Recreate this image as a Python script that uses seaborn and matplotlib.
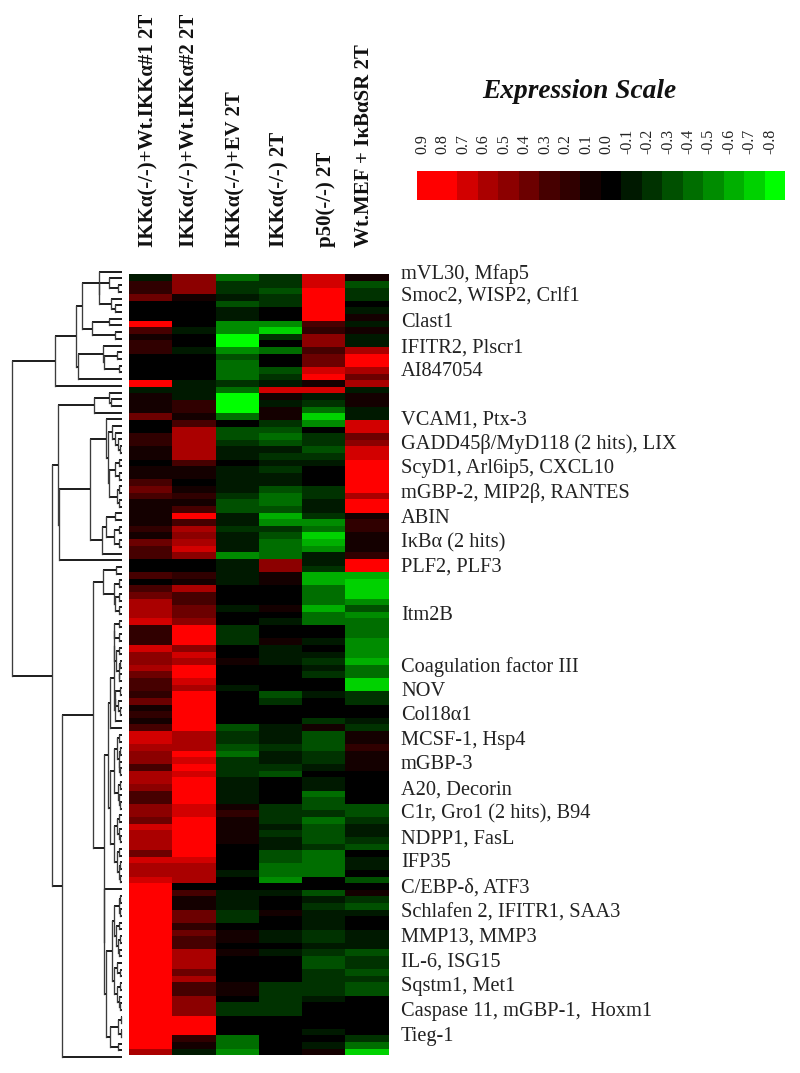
import numpy as np
import matplotlib
matplotlib.use("Agg")
import matplotlib.pyplot as plt
from matplotlib.colors import ListedColormap
import seaborn as sns

sns.set_style("white")
plt.rcParams['font.family'] = ['Liberation Serif', 'DejaVu Serif']

# ---------- data (expression in tenths, rows top to bottom) ----------
columns = ["IKKα(-/-)+Wt.IKKα#1 2T", "IKKα(-/-)+Wt.IKKα#2 2T", "IKKα(-/-)+EV 2T",
           "IKKα(-/-) 2T", "p50(-/-) 2T", "Wt.MEF + IκBαSR 2T"]
column_label_pos = [0.46, 1.41, 2.46, 3.48, 4.55, 5.44]

block_a = [
 [-1,5,-4,-2,7,1],[2,5,-2,-2,7,-3],[2,5,-2,-3,8,-2],[4,1,-1,-2,9,-2],[0,0,-3,-2,9,0],
 [0,0,-1,0,9,-1],[0,0,-1,0,9,1],[8,0,-5,-5,3,-1],[3,-1,-5,-7,2,1],[1,0,-8,-2,5,-1],
 [2,0,-8,0,5,-1],[2,-1,-5,-4,3,6],[0,0,-3,0,4,8],[0,0,-4,0,4,8],[0,0,-4,-3,7,6],
 [0,0,-4,-2,8,4],[9,-1,-2,-1,1,6],[-1,-1,-4,7,7,-1],
]
block_b = [
 [1,-1,-8,1,-1,1],[1,2,-8,-1,-2,1],[1,2,-8,1,-4,-1],[4,1,-4,1,-7,-1],[0,3,0,-2,-5,7],
 [0,6,-3,-3,0,7],[2,6,-3,-4,-2,4],[2,6,-2,-3,-2,5],[1,6,-1,-1,-3,7],[1,6,-1,-2,-2,7],
 [0,3,0,-1,-1,8],[1,1,-1,-2,0,9],[1,1,-1,-1,0,9],[3,0,-1,-1,0,9],[4,1,-1,-3,-2,9],
 [3,2,-2,-4,-2,6],[1,1,-3,-4,-1,8],[1,3,-3,-3,-1,8],[1,8,-1,-6,-2,1],[1,3,-1,-5,-5,2],
 [2,6,-2,-2,-4,2],[1,5,-1,-3,-7,1],[4,6,-1,-4,-6,1],[3,7,-1,-4,-5,1],[3,5,-5,-4,-1,2],
 [0,0,-1,5,-1,9],
]
block_c = [
 [0,0,-1,5,-2,9],[3,2,-1,1,-6,-6],[0,1,-1,1,-6,-7],[3,6,0,0,-4,-7],[4,3,0,0,-4,-7],
 [6,3,0,0,-4,-5],[6,4,-1,1,-6,-3],[6,4,0,0,-4,-5],[7,5,0,-1,-4,-4],[2,9,-2,0,0,-4],
 [2,9,-2,0,0,-4],[2,8,-2,1,-1,-5],[7,5,0,-1,0,-5],[5,7,0,-1,-1,-5],[5,6,1,-1,-2,-6],
 [6,8,0,0,-1,-4],[4,8,0,0,-2,-4],[3,7,0,0,0,-7],[3,6,-1,0,0,-7],[2,9,0,-3,-1,-2],
 [4,9,0,-2,0,-2],[1,9,0,0,0,0],[2,9,0,0,0,0],[1,9,0,0,-2,-1],[3,9,-3,-1,1,-2],
]
block_d = [
 [7,6,-2,-1,-3,1],[7,6,-2,-1,-3,1],[6,6,-3,-2,-3,2],[5,8,-4,-1,-2,1],[5,7,-2,-1,-2,1],
 [3,9,-2,-2,-1,1],[6,7,-2,-3,0,0],[6,9,-1,0,-1,0],[5,9,-1,0,-1,0],[3,9,-1,0,-4,0],
 [3,9,-1,0,-3,0],[5,7,1,-2,-3,-3],[5,7,2,-2,-2,-3],[4,9,1,-2,-4,-2],[7,9,1,-1,-3,-1],
 [6,9,1,-2,-3,-1],[6,8,1,-1,-3,-2],[6,9,0,-1,-2,-3],[4,9,0,-3,-4,0],[7,7,0,-3,-4,-1],
 [6,6,0,-4,-4,-1],[6,6,-1,-4,-4,0],[7,6,0,-5,0,-3],
]
block_e = [
 [9,0,0,0,0,0],[9,3,-1,-1,-3,1],[9,1,-1,0,-1,-2],[9,1,-1,0,-2,-3],[9,4,-2,1,-1,-1],
 [9,4,-2,0,-1,0],[9,2,0,0,-1,0],[9,4,1,-1,-2,-1],[9,3,1,-1,-2,-1],[9,3,0,0,-1,-1],
 [8,6,1,-1,-2,-3],[8,6,0,0,-3,-2],[8,6,0,0,-3,-2],[9,4,0,0,-2,-3],[9,6,0,0,-2,-2],
 [9,3,1,-2,-2,-3],[9,3,1,-2,-2,-3],[9,5,0,-2,-1,0],[9,5,-2,-2,0,0],[9,5,-2,-2,0,0],
 [8,8,0,0,0,0],[8,8,0,0,0,0],[8,8,0,0,-1,0],[9,2,-4,0,0,-2],[9,1,-4,0,-1,-4],
 [6,-1,-5,0,1,-7],
]

gene_labels = ["mVL30, Mfap5", "Smoc2, WISP2, Crlf1", "Clast1", "IFITR2, Plscr1", "AI847054",
               "VCAM1, Ptx-3", "GADD45β/MyD118 (2 hits), LIX", "ScyD1, Arl6ip5, CXCL10",
               "mGBP-2, MIP2β, RANTES", "ABIN", "IκBα (2 hits)", "PLF2, PLF3", "Itm2B",
               "Coagulation factor III", "NOV", "Col18α1", "MCSF-1, Hsp4", "mGBP-3",
               "A20, Decorin", "C1r, Gro1 (2 hits), B94", "NDPP1, FasL", "IFP35",
               "C/EBP-δ, ATF3", "Schlafen 2, IFITR1, SAA3", "MMP13, MMP3", "IL-6, ISG15",
               "Sqstm1, Met1", "Caspase 11, mGBP-1,  Hoxm1", "Tieg-1"]
gene_label_rows = [-0.4, 3.1, 6.9, 10.7, 14.3, 21.6, 25.2, 29.0, 32.7, 36.5, 40.2, 43.8, 51.2,
                   59.0, 62.7, 66.3, 70.1, 73.7, 77.5, 81.2, 84.9, 88.5, 92.3, 96.2, 99.8,
                   103.6, 107.3, 111.0, 114.8]

scale_values = [0.9, 0.8, 0.7, 0.6, 0.5, 0.4, 0.3, 0.2, 0.1, 0.0,
                -0.1, -0.2, -0.3, -0.4, -0.5, -0.6, -0.7, -0.8]
scale_colors = ["#ff0000", "#ff0000", "#d20000", "#aa0000", "#8c0000", "#6c0000", "#460000",
                "#300000", "#140000", "#000000", "#001900", "#003200", "#005000", "#006e00",
                "#008c00", "#00af00", "#00d200", "#00ff00"]

# dendrogram: (merge distance, child, child); an int child is a row
t_n1 = (70, 0, (68, (40, 1, (13, 2, 3)), (33, 4, (20, 5, 6))))
t_n2 = (90, (40, 7, 8), (20, 9, 10))
t_n3 = (132, (57, 11, (53, (15, 12, 13), (10, 14, 15))), 16)
tree_a = (202, (137, (120, t_n1, t_n2), t_n3), 17)

t_p = (83, (40, 18, (32, 19, 20)), 21)
t_c1 = (30, 23, (20, 24, (13, 25, (7, 26, 27))))
t_c2 = (20, (8, 28, 29), (10, 30, 31))
t_c3 = (15, (8, 32, 33), (8, 34, 35))
t_rtop = (47, 22, (43, t_c1, (40, t_c2, t_c3)))
t_rbot = (60, (47, (20, 36, 37), (25, (10, 38, 39), (10, 40, 41))), 42)
tree_b1 = (193, t_p, (190, (95, t_rtop, t_rbot), 43))

t_t1 = (57, (18, 44, 45), (23, (10, 46, 47), (20, (8, 48, 49), (8, 50, 51))))
t_s1 = (23, (10, 52, 53), (10, 54, 55))
t_s2 = (17, (8, 56, 57), (10, (5, 58, 59), (8, 60, 61)))
t_s3 = (20, (6, 62, 63), (12, 64, (6, 65, 66)))
t_g = (37, (25, (24, t_s1, t_s2), (22, t_s3, 67)), 68)
t_h1 = (15, (8, 69, 70), (10, (6, 71, 72), (8, 73, (5, 74, 75))))
t_h2 = (12, (6, 76, 77), (8, 78, (5, 79, 80)))
t_h3 = (15, (8, 81, 82), (10, 83, (6, 84, 85)))
t_h4 = (15, (8, 86, 87), (10, (6, 88, 89), (6, 90, 91)))
t_h = (35, (25, t_h1, t_h2), (25, t_h3, t_h4))
t_k1 = (25, (10, (6, 93, 94), (6, 95, 96)), (18, (8, 97, 98), (12, (6, 99, 100), (8, 101, 102))))
t_k2 = (23, (14, 103, (7, 104, 105)), (15, (6, 106, 107), (8, 108, (5, 109, 110))))
t_k3 = (12, (3, 111, 112), (2, 113, 114))
t_k = (53, 92, (47, (30, t_k1, t_k2), (37, t_k3, (13, 115, 116))))
tree_b2 = (180, (87, t_t1, (55, (42, t_g, t_h), t_k)), 117)
tree_root = (330, tree_a, (210, tree_b1, tree_b2))

# ---------- layout ----------
W, H = 800, 1073
fig = plt.figure(figsize=(W / 100, H / 100), dpi=100, facecolor="white")


def axes_px(x0, y0, x1, y1):
    return fig.add_axes([x0 / W, 1 - y1 / H, (x1 - x0) / W, (y1 - y0) / H])


serif = "Liberation Serif"
cmap = ListedColormap(scale_colors[::-1])
vmin, vmax = -0.85, 0.95

# main heat map
matrix = np.vstack([block_a, block_b, block_c, block_d, block_e]) / 10.0
ax = axes_px(129, 274.3, 388.5, 1055.3)
sns.heatmap(matrix, ax=ax, cmap=cmap, vmin=vmin, vmax=vmax, cbar=False,
            xticklabels=False, yticklabels=False)
ax.xaxis.tick_top()
ax.set_xticks(column_label_pos)
ax.set_xticklabels(columns, rotation=90, fontfamily=serif, fontweight="bold",
                   fontsize=15.0, color="#111111", ha="center", va="bottom")
ax.tick_params(axis="x", length=0, pad=19.7)
ax.set_xlim(0, len(columns))
ax.set_ylim(len(matrix), 0)
ax.set_yticks([])
label_x = 401.0 / 259.5 - 129.0 / 259.5
for row, label in zip(gene_label_rows, gene_labels):
    ax.text(label_x, row, label, transform=ax.get_yaxis_transform(), clip_on=False,
            fontfamily=serif, fontsize=14.7, color="#222222", ha="left", va="center_baseline")

# colour scale
axs = axes_px(416.5, 171, 785, 200)
sns.heatmap(np.array(scale_values)[None, :], ax=axs, cmap=cmap, vmin=vmin, vmax=vmax,
            cbar=False, xticklabels=False, yticklabels=False)
axs.xaxis.tick_top()
axs.set_xticks(np.arange(len(scale_values)) + 0.28)
axs.set_xticklabels([f"{v:.1f}" for v in scale_values], rotation=90, fontfamily=serif,
                    fontsize=11.5, color="#222222", ha="center", va="bottom")
axs.tick_params(axis="x", length=0, pad=12)
axs.set_xlim(0, len(scale_values))
fig.text(579 / W, 1 - 98 / H, "Expression Scale", fontfamily=serif, fontweight="bold",
         fontstyle="italic", fontsize=19.7, ha="center", va="baseline", color="#111111")

# dendrogram
axd = axes_px(8, 271.7, 122, 1057)
axd.set_xlim(342, 0)
axd.set_ylim(117, 0)
axd.axis("off")


def draw(node):
    if isinstance(node, int):
        return float(node), 0.0
    dist, a, b = node
    ya, da = draw(a)
    yb, db = draw(b)
    axd.plot([da, dist], [ya, ya], color="black", lw=1.25, solid_capstyle="butt", clip_on=False)
    axd.plot([db, dist], [yb, yb], color="black", lw=1.25, solid_capstyle="butt", clip_on=False)
    axd.plot([dist, dist], [ya, yb], color="#3c3c3c", lw=0.95, solid_capstyle="projecting", clip_on=False)
    return (ya + yb) / 2, dist


draw(tree_root)

fig.savefig("out.png", dpi=100, facecolor="white")
